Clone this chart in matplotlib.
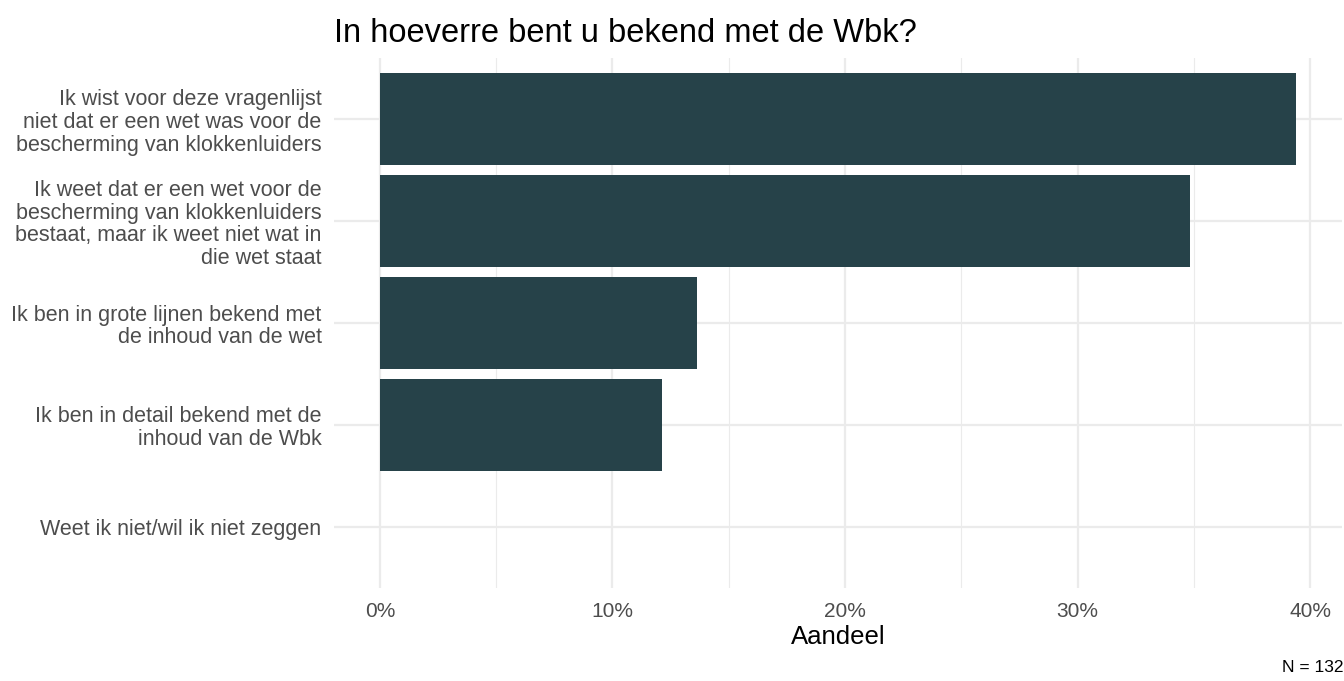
import matplotlib.pyplot as plt
from matplotlib.ticker import FuncFormatter, MultipleLocator

plt.rcParams['font.family'] = ['Liberation Sans', 'DejaVu Sans']

categories = [
    "Weet ik niet/wil ik niet zeggen",
    "Ik ben in detail bekend met de\ninhoud van de Wbk",
    "Ik ben in grote lijnen bekend met\nde inhoud van de wet",
    "Ik weet dat er een wet voor de\nbescherming van klokkenluiders\nbestaat, maar ik weet niet wat in\ndie wet staat",
    "Ik wist voor deze vragenlijst\nniet dat er een wet was voor de\nbescherming van klokkenluiders",
]
counts = [0, 16, 18, 46, 52]
n_total = 132
shares = [c / n_total for c in counts]

fig = plt.figure(figsize=(13.44, 6.81), dpi=100)
ax = fig.add_axes([334 / 1344, 1 - 588 / 681, (1342 - 334) / 1344, (588 - 58) / 681])

ypos = list(range(len(categories)))
ax.barh(ypos, shares, height=0.9, color="#264249", zorder=3)

xmax = max(shares)
ax.set_xlim(-0.05 * xmax, xmax * 1.05)
ax.set_ylim(-0.6, len(categories) - 0.4)

ax.xaxis.set_major_locator(MultipleLocator(0.1))
ax.xaxis.set_minor_locator(MultipleLocator(0.05))
ax.xaxis.set_major_formatter(FuncFormatter(lambda v, p: f"{v * 100:.0f}%"))
ax.set_yticks(ypos)
ax.set_yticklabels(categories)

ax.grid(True, which="major", color="#EBEBEB", linewidth=1.6, zorder=0)
ax.grid(True, which="minor", axis="x", color="#EBEBEB", linewidth=0.8, zorder=0)
ax.set_axisbelow(True)
for s in ax.spines.values():
    s.set_visible(False)
ax.tick_params(axis="both", which="both", length=0)
ax.tick_params(axis="x", labelsize=15, labelcolor="#4D4D4D", pad=10)
ax.tick_params(axis="y", labelsize=15.5, labelcolor="#4D4D4D", pad=9)
for lab in ax.get_yticklabels():
    lab.set_horizontalalignment("right")
    lab.set_multialignment("right")
    lab.set_linespacing(1.1)

ax.set_xlabel("Aandeel", fontsize=18.5, labelpad=3)
fig.text(334 / 1344, 1 - 33 / 681, "In hoeverre bent u bekend met de Wbk?",
         fontsize=23.5, va="center", ha="left")
fig.text(1343 / 1344, 1 - 668 / 681, f"N = {n_total}", fontsize=12.5,
         ha="right", va="center")

fig.savefig("out.png", dpi=100)
